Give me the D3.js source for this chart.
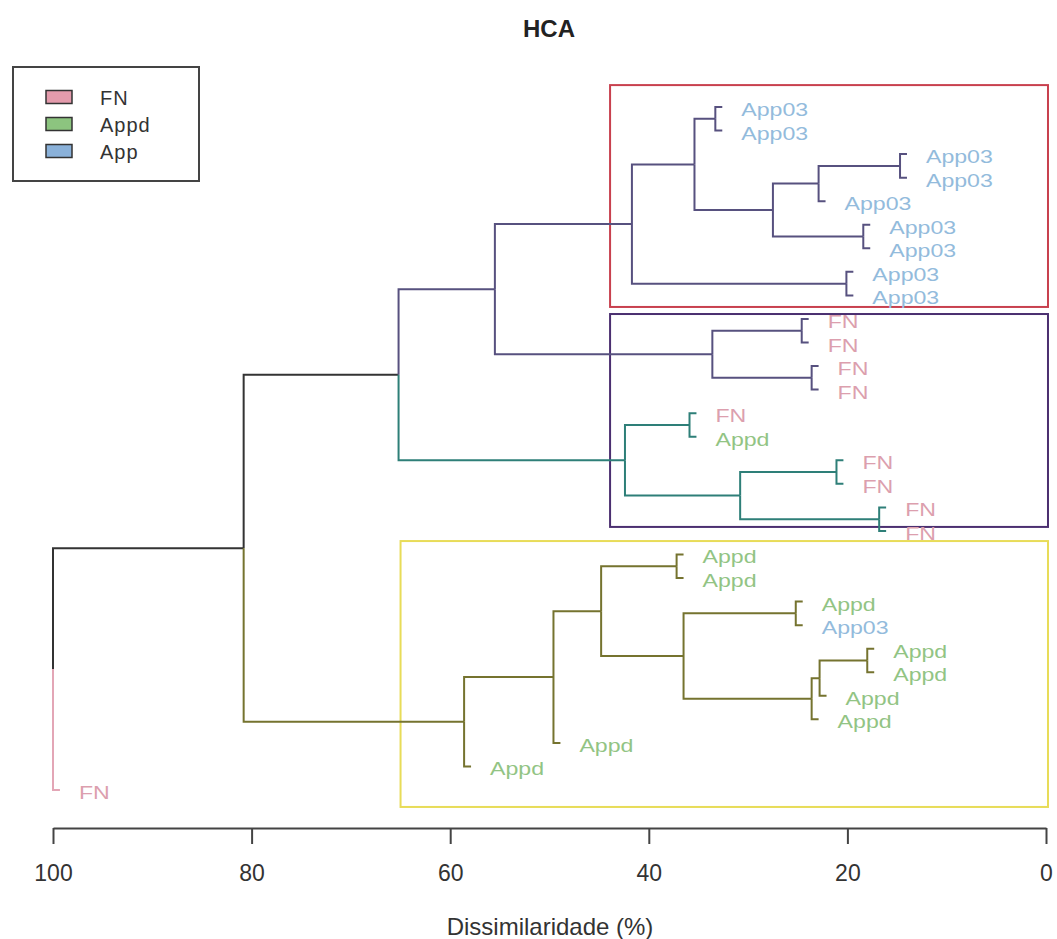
<!DOCTYPE html>
<html>
<head>
<meta charset="utf-8">
<script src="https://cdn.jsdelivr.net/npm/d3@7"></script>
<style>
   body { margin: 0; background: #fff; }
   text { font-family: 'Liberation Sans', Arial, sans-serif; }
</style>
</head>
<body>
<div id="chart"></div>
<script>
// leaves, top to bottom
const leafLabels = [
   'App03', 'App03', 'App03', 'App03', 'App03', 'App03', 'App03', 'App03', 'App03',
   'FN', 'FN', 'FN', 'FN', 'FN', 'Appd', 'FN', 'FN', 'FN', 'FN',
   'Appd', 'Appd', 'Appd', 'App03', 'Appd', 'Appd', 'Appd', 'Appd', 'Appd', 'Appd',
   'FN',
]

// hclust style merge table: negative = leaf (1-based), positive = earlier merge row
const merges = [
   [-1, -2], [-3, -4], [2, -5], [-6, -7], [3, 4], [1, 5], [-8, -9], [6, 7],
   [-10, -11], [-12, -13], [9, 10], [8, 11],
   [-14, -15], [-16, -17], [-18, -19], [14, 15], [13, 16], [12, 17],
   [-20, -21], [-22, -23], [-24, -25], [21, -26], [22, -27], [20, 23], [19, 24],
   [25, -28], [26, -29], [18, 27], [28, -30],
]
const mergeHeights = [
   33.3, 14.7, 22.9, 18.4, 27.5, 35.4, 20.1, 41.7,
   24.6, 23.6, 33.6, 55.5,
   35.9, 21.1, 16.8, 30.8, 42.4, 65.2,
   37.2, 25.2, 18.0, 22.8, 23.6, 36.5, 44.8,
   49.6, 58.6, 80.8, 100,
]

// subtrees with their own branch colour
const branchGroups = [[12, 'purple'], [17, 'teal'], [27, 'olive'], [-30, 'pink']]

const groupNames = ['FN', 'Appd', 'App']
const labelGroup = { FN: 'FN', Appd: 'Appd', App03: 'App' }
const axisTicks = [100, 80, 60, 40, 20, 0]

// highlighted clusters (edges in leaf units / dissimilarity)
const boxTop = [-0.93, 8.79, 18.43]
const boxBottom = [8.49, 17.83, 29.72]
const boxLeft = [43.9, 43.9, 65]
const boxColors = ['#c8404e', '#4b2f70', '#e8dc58']

const width = 1057
const height = 939
const hang = 0.7

const branchColor = {
   black: '#333333', purple: '#57517f', teal: '#2e7f78', olive: '#75732f', pink: '#e3a6b6',
}
const labelColor = { FN: '#dc9fae', Appd: '#92c484', App: '#93bbdc' }
const swatchColor = { FN: '#e49bac', Appd: '#8cc47f', App: '#8ab1d9' }

const x = d3.scaleLinear().domain([100, 0]).range([53, 1046])
const y = d3.scaleLinear().domain([0, leafLabels.length - 1]).range([107, 790])

const svg = d3
   .select('#chart')
   .append('svg')
   .attr('width', width)
   .attr('height', height)

// node positions: leaves evenly spaced, merges at the mean of their children
const groupOf = new Map(branchGroups)
const nodeY = id => (id < 0 ? y(-id - 1) : d3.mean(merges[id - 1], nodeY))

const edges = []
const leaves = []
const walk = (id, color) => {
   const h = mergeHeights[id - 1]
   merges[id - 1].forEach(c => {
      const col = groupOf.get(c) || color
      const ch = c < 0 ? h - hang : mergeHeights[c - 1]
      edges.push({ px: x(h), py: nodeY(id), cx: x(ch), cy: nodeY(c), color: col })
      if (c < 0) leaves.push({ i: -c - 1, h: ch })
      else walk(c, col)
   })
}
walk(merges.length, 'black')

// cluster boxes
svg.selectAll('rect.box')
   .data(boxTop)
   .enter()
   .append('rect')
   .attr('class', 'box')
   .attr('x', (d, i) => x(boxLeft[i]))
   .attr('y', d => y(d))
   .attr('width', (d, i) => x(-0.2) - x(boxLeft[i]))
   .attr('height', (d, i) => y(boxBottom[i]) - y(d))
   .attr('fill', 'none')
   .attr('stroke', (d, i) => boxColors[i])
   .attr('stroke-width', 2)

svg.selectAll('path.branch')
   .data(edges)
   .enter()
   .append('path')
   .attr('class', 'branch')
   .attr('d', d => `M${d.px},${d.py}V${d.cy}H${d.cx}`)
   .attr('fill', 'none')
   .attr('stroke', d => branchColor[d.color])
   .attr('stroke-width', 2)

svg.selectAll('text.leaf')
   .data(leaves)
   .enter()
   .append('text')
   .attr('class', 'leaf')
   .attr('transform', d => `translate(${x(d.h) + 19},${y(d.i) + 9}) scale(1.25,1)`)
   .attr('font-size', 18.5)
   .attr('fill', d => labelColor[labelGroup[leafLabels[d.i]]])
   .text(d => leafLabels[d.i])

// axis
const axis = svg
   .append('g')
   .attr('transform', 'translate(0,828)')
   .call(d3.axisBottom(x).tickValues(axisTicks).tickSize(16).tickSizeOuter(0).tickPadding(21))
axis.select('.domain').attr('stroke', '#444').attr('stroke-width', 2)
axis.selectAll('.tick line').attr('stroke', '#444').attr('stroke-width', 2)
axis.selectAll('.tick text')
   .attr('font-size', 23)
   .attr('fill', '#333')
   .attr('font-family', "'Liberation Sans', Arial, sans-serif")

svg.append('text')
   .attr('x', 550)
   .attr('y', 935)
   .attr('text-anchor', 'middle')
   .attr('font-size', 24)
   .attr('fill', '#333')
   .text('Dissimilaridade (%)')

svg.append('text')
   .attr('x', 549)
   .attr('y', 37)
   .attr('text-anchor', 'middle')
   .attr('font-size', 24)
   .attr('font-weight', 'bold')
   .attr('fill', '#222')
   .text('HCA')

// legend
const legend = svg.append('g')
legend.append('rect')
   .attr('x', 13)
   .attr('y', 67)
   .attr('width', 186)
   .attr('height', 114)
   .attr('fill', '#fff')
   .attr('stroke', '#444')
   .attr('stroke-width', 2)
const rows = legend.selectAll('g.row')
   .data(groupNames)
   .enter()
   .append('g')
   .attr('class', 'row')
   .attr('transform', (d, i) => `translate(0,${97 + i * 27})`)
rows.append('rect')
   .attr('x', 46)
   .attr('y', -6.5)
   .attr('width', 26)
   .attr('height', 13)
   .attr('fill', d => swatchColor[d])
   .attr('stroke', '#333')
   .attr('stroke-width', 1.5)
rows.append('text')
   .attr('x', 100)
   .attr('y', 8)
   .attr('font-size', 20)
   .attr('letter-spacing', 1)
   .attr('fill', '#333')
   .text(d => d)
</script>
</body>
</html>
